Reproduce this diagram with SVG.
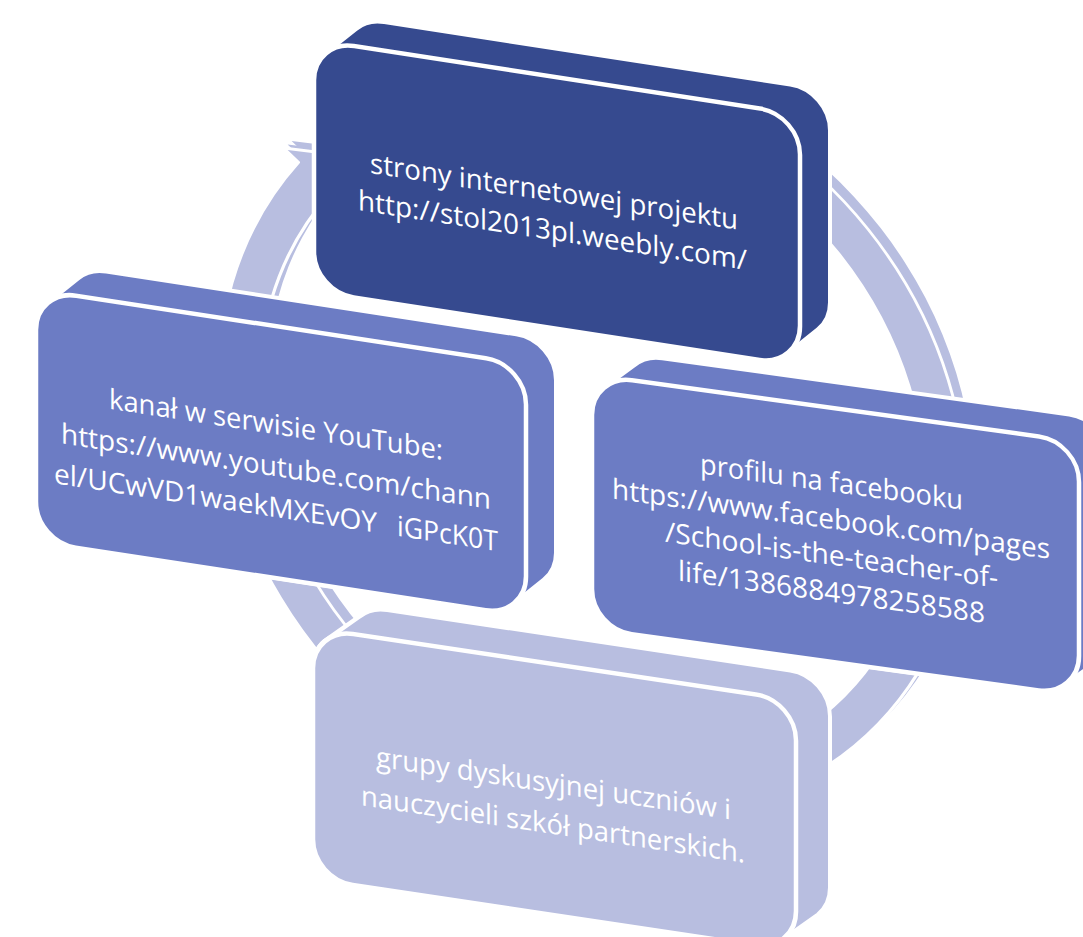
<svg xmlns="http://www.w3.org/2000/svg" xmlns:xlink="http://www.w3.org/1999/xlink" width="1083" height="937" viewBox="0 0 1083 937">
<style>
.t{fill:#ffffff;font-family:"Open Sans","Liberation Sans",sans-serif;font-size:28px;}
.edge{stroke:#ffffff;stroke-width:4;stroke-linejoin:round;}
.face{stroke:#ffffff;stroke-width:4.5;}
.dark{fill:#364A8F;}
.mid{fill:#6C7CC4;}
.light{fill:#B8BEE0;}
</style>
<defs>
<path id="ring" d="M 750.1,9.0 A 374 374 0 1 1 298.5,116.2 L 283.6,104.4 L 338.2,102.7 L 345.6,153.4 L 330.7,141.6 A 333 333 0 1 0 732.7,46.2 Z"/>
</defs>
<rect width="1083" height="937" fill="#ffffff"/>
<g id="connectors" transform="matrix(1,0.154,0,1,0,0)">
<use xlink:href="#ring" class="light" transform="translate(8,-8.2)"/>
<use xlink:href="#ring" class="light" transform="translate(4,-4.1)"/>
<use xlink:href="#ring" class="light" stroke="#ffffff" stroke-width="3" stroke-linejoin="round"/>
</g>
<g id="node-top" transform="matrix(1,0.154,0,1,0,0)">
<path class="dark edge" d="M 314,203 L 314,31.5 A 40 40 0 0 1 326,2.5 L 356,-26.1 A 40 40 0 0 1 384,-37.1 L 790,-37.1 A 40 40 0 0 1 830,2.9 L 830,174.4 A 40 40 0 0 1 818,203.4 L 788,232 A 40 40 0 0 1 760,243 L 354,243 A 40 40 0 0 1 314,203 Z"/>
<rect class="dark face" x="314" y="-8.5" width="486" height="251.5" rx="40"/>
<text class="t" x="370" y="116" textLength="368" lengthAdjust="spacingAndGlyphs">strony internetowej projektu</text>
<text class="t" x="358" y="155" textLength="389" lengthAdjust="spacingAndGlyphs">http://stol2013pl.weebly.com/</text>
</g>
<g id="node-right" transform="matrix(1,0.138,0,1,0,0)">
<path class="mid edge" d="M 592,507 L 592,333 A 40 40 0 0 1 604,304 L 634,277.9 A 40 40 0 0 1 662,266.9 L 1069,266.9 A 40 40 0 0 1 1109,306.9 L 1109,480.9 A 40 40 0 0 1 1097,509.9 L 1067,536 A 40 40 0 0 1 1039,547 L 632,547 A 40 40 0 0 1 592,507 Z"/>
<rect class="mid face" x="592" y="293" width="487" height="254" rx="40"/>
<text class="t" x="700" y="377" textLength="263" lengthAdjust="spacingAndGlyphs">profilu na facebooku</text>
<text class="t" x="612" y="414" textLength="438" lengthAdjust="spacingAndGlyphs">https://www.facebook.com/pages</text>
<text class="t" x="665" y="450" textLength="333" lengthAdjust="spacingAndGlyphs">/School-is-the-teacher-of-</text>
<text class="t" x="678" y="487" textLength="307" lengthAdjust="spacingAndGlyphs">life/1386884978258588</text>
</g>
<g id="node-bottom" transform="matrix(1,0.15,0,1,0,0)">
<path class="light edge" d="M 313,792 L 313,621 A 40 40 0 0 1 325,592 L 359,562.9 A 40 40 0 0 1 387,551.9 L 790,551.9 A 40 40 0 0 1 830,591.9 L 830,762.9 A 40 40 0 0 1 818,791.9 L 784,821 A 40 40 0 0 1 756,832 L 353,832 A 40 40 0 0 1 313,792 Z"/>
<rect class="light face" x="313" y="581" width="483" height="251" rx="40"/>
<text class="t" x="376" y="710" textLength="355" lengthAdjust="spacingAndGlyphs">grupy dyskusyjnej uczniów i</text>
<text class="t" x="361" y="751" textLength="384" lengthAdjust="spacingAndGlyphs">nauczycieli szkół partnerskich.</text>
</g>
<g id="node-left" transform="matrix(1,0.153,0,1,0,0)">
<path class="mid edge" d="M 36,496 L 36,324 A 40 40 0 0 1 48,295 L 78,266.4 A 40 40 0 0 1 106,255.4 L 516,255.4 A 40 40 0 0 1 556,295.4 L 556,467.4 A 40 40 0 0 1 544,496.4 L 514,525 A 40 40 0 0 1 486,536 L 76,536 A 40 40 0 0 1 36,496 Z"/>
<rect class="mid face" x="36" y="284" width="490" height="252" rx="40"/>
<text class="t" x="109" y="392" textLength="334" lengthAdjust="spacingAndGlyphs">kanał w serwisie YouTube:</text>
<text class="t" x="61" y="434" textLength="430" lengthAdjust="spacingAndGlyphs">https://www.youtube.com/chann</text>
<text class="t" x="54" y="475" textLength="323" lengthAdjust="spacingAndGlyphs">el/UCwVD1waekMXEvOY</text>
<text class="t" x="397" y="475" textLength="101" lengthAdjust="spacingAndGlyphs">iGPcK0T</text>
</g>
</svg>
